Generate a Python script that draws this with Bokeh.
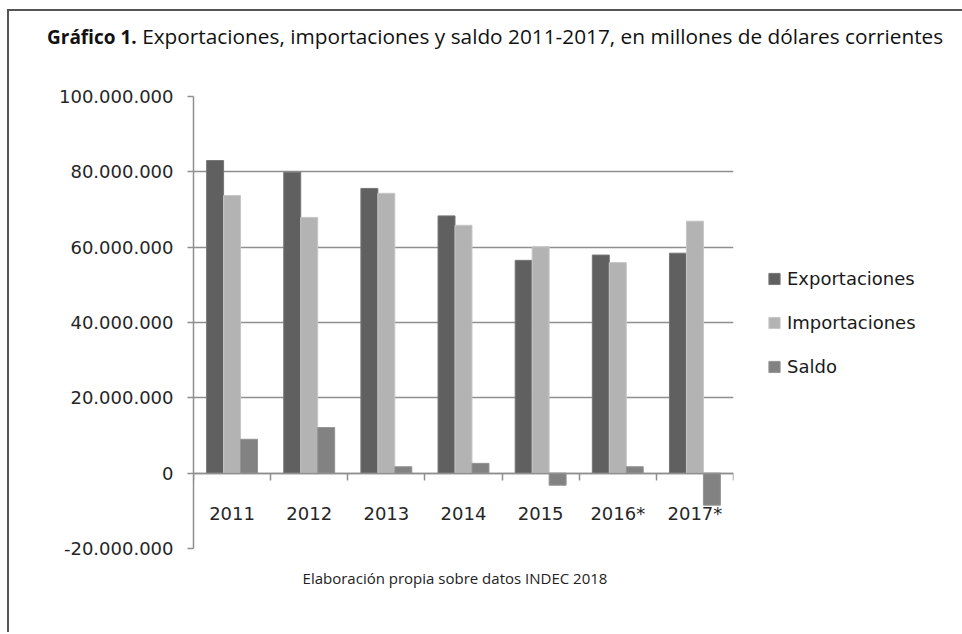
from bokeh.plotting import figure
from bokeh.models import (Range1d, FixedTicker, Legend, LegendItem, ColumnDataSource, Div)
from bokeh.layouts import column
from bokeh.transform import dodge
from bokeh.embed import file_html
from bokeh.resources import INLINE

# ---------------- data ----------------
categorias = ["2011", "2012", "2013", "2014", "2015", "2016*", "2017*"]
exportaciones = [83_000_000, 79_900_000, 75_600_000, 68_300_000, 56_500_000, 57_900_000, 58_400_000]
importaciones = [73_700_000, 67_900_000, 74_300_000, 65_800_000, 60_100_000, 55_900_000, 66_900_000]
saldo = [9_000_000, 12_100_000, 1_700_000, 2_600_000, -3_200_000, 1_700_000, -8_500_000]
series = ["Exportaciones", "Importaciones", "Saldo"]
y_ticks = [-20_000_000, 0, 20_000_000, 40_000_000, 60_000_000, 80_000_000, 100_000_000]
y_tick_labels = ["-20.000.000", "0", "20.000.000", "40.000.000", "60.000.000",
                 "80.000.000", "100.000.000"]
titulo_bold = "Gráfico 1."
titulo = "Exportaciones, importaciones y saldo 2011-2017, en millones de dólares corrientes"
fuente = "Elaboración propia sobre datos INDEC 2018"

# ---------------- styles ----------------
colores = ["#606060", "#b3b3b3", "#828282"]
bordes = ["#767676", "#c6c6c6", "#939393"]
grid_col = "#8f8f8f"
axis_font = "DejaVu Sans"
txt_col = "#262626"

W = 944
FL, FR, FT, FB = 184, 220, 29, 60
FW, FH = 540, 452

n = len(categorias)
centros = [i + 0.5 for i in range(n)]
limites = list(range(n + 1))
source = ColumnDataSource(dict(cat=categorias, xc=centros, exp=exportaciones,
                               imp=importaciones, sal=saldo))

p = figure(frame_width=FW, frame_height=FH, x_range=Range1d(0, n),
           y_range=Range1d(y_ticks[0], y_ticks[-1]),
           output_backend="svg", toolbar_location=None, title=None,
           min_border_left=FL, min_border_right=FR, min_border_top=FT, min_border_bottom=FB)
p.outline_line_color = None
p.background_fill_color = "white"
p.border_fill_color = "white"

# bars
bw = 0.22
cols = ["exp", "imp", "sal"]
offs = [-bw, 0.0, bw]
rends = []
for c, o, fc, lc in zip(cols, offs, colores, bordes):
    r = p.vbar(x=dodge("xc", o), top=c, bottom=0, width=bw,
               source=source, fill_color=fc, line_color=lc, line_width=1)
    rends.append(r)

# y axis
yax = p.yaxis[0]
yax.ticker = FixedTicker(ticks=y_ticks)
yax.major_label_overrides = {v: s for v, s in zip(y_ticks, y_tick_labels)}
yax.major_label_text_font = axis_font
yax.major_label_text_font_size = "18px"
yax.major_label_text_color = txt_col
yax.major_tick_out = 6
yax.major_tick_in = 0
yax.minor_tick_line_color = None
yax.major_tick_line_color = grid_col
yax.major_tick_line_width = 1.5
yax.axis_line_color = grid_col
yax.axis_line_width = 1.5
yax.major_label_standoff = 14

p.ygrid.ticker = FixedTicker(ticks=y_ticks)
p.ygrid.grid_line_color = grid_col
p.ygrid.grid_line_width = 1.5
p.xgrid.visible = False

# x axis at y = 0: labels at category centres, ticks at boundaries
xax = p.xaxis[0]
xax.fixed_location = 0
xax.ticker = FixedTicker(ticks=centros, minor_ticks=limites)
xax.major_label_overrides = {c: s for c, s in zip(centros, categorias)}
xax.major_tick_line_color = None
xax.major_tick_out = 0
xax.major_tick_in = 0
xax.minor_tick_out = 7
xax.minor_tick_in = 0
xax.minor_tick_line_color = grid_col
xax.minor_tick_line_width = 1.5
xax.axis_line_color = grid_col
xax.axis_line_width = 1.5
xax.major_label_text_font = axis_font
xax.major_label_text_font_size = "18px"
xax.major_label_text_color = txt_col
xax.major_label_standoff = 23

# legend
legend = Legend(items=[LegendItem(label=s, renderers=[r]) for s, r in zip(series, rends)],
                location="center_left", orientation="vertical")
legend.margin = 34
legend.padding = 7
legend.border_line_color = None
legend.background_fill_alpha = 0
legend.glyph_width = 14
legend.glyph_height = 14
legend.label_height = 21
legend.spacing = 23
legend.label_standoff = 6
legend.label_text_font = axis_font
legend.label_text_font_size = "18px"
legend.label_text_color = "#1a1a1a"
p.add_layout(legend, "right")

# title and source note
title_div = Div(
    text=('<div style="padding:13px 0 0 38px;font-family:\'Open Sans\';'
          'line-height:24px;color:#111111;white-space:nowrap;">'
          f'<b style="font-size:19px;">{titulo_bold}</b>'
          f'<span style="font-size:20.8px;"> {titulo}</span></div>'),
    width=W, height=56, margin=0)
foot_div = Div(
    text=('<div style="width:%dpx;text-align:center;font-family:\'Open Sans\';font-size:15px;'
          'line-height:20px;color:#222222;white-space:nowrap;">%s</div>') % (2 * 446, fuente),
    width=W, height=64, margin=(-40, 0, 0, 0))

layout = column(title_div, p, foot_div, spacing=0, margin=(9, 0, 0, 7),
                styles={"border-left": "2px solid #555555", "border-top": "2px solid #555555"})

open("out.html", "w").write(file_html(layout, INLINE))
